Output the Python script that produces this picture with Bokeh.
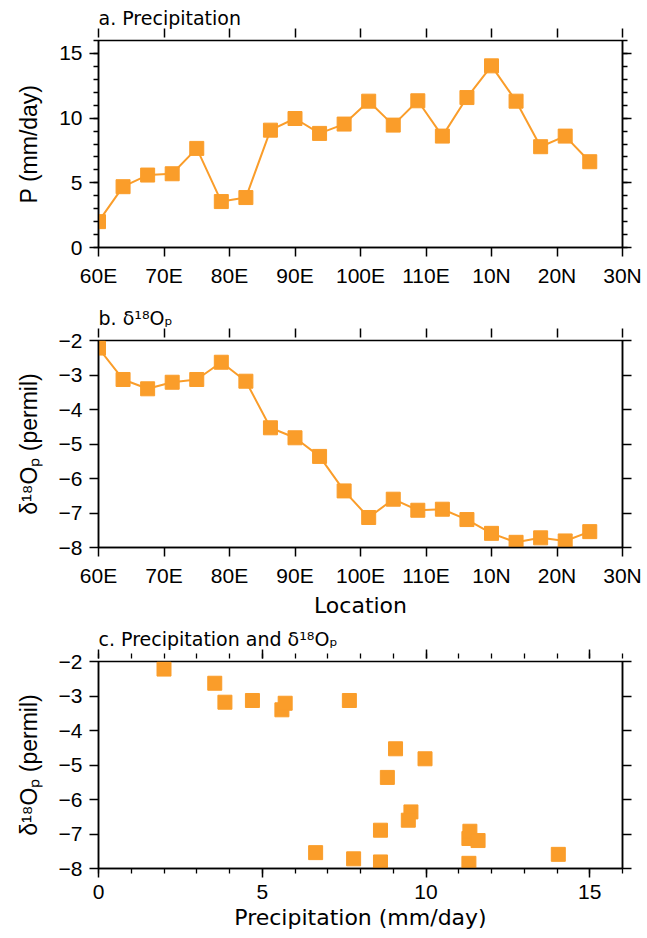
import numpy as np
from bokeh.plotting import figure
from bokeh.models import LinearAxis, FixedTicker, Range1d, Title, ColumnDataSource
from bokeh.layouts import column
from bokeh.embed import file_html
from bokeh.resources import INLINE

# ---------------- data ----------------
# sample positions along the transect (degrees from 60E; 60E->120E along the equator, then north)
transect_deg = [0, 3.75, 7.5, 11.25, 15, 18.75, 22.5, 26.25, 30, 33.75, 37.5,
                41.25, 45, 48.75, 52.5, 56.25, 60, 63.75, 67.5, 71.25, 75]
location_ticks = [0, 10, 20, 30, 40, 50, 60, 70, 80]
location_labels = ["60E", "70E", "80E", "90E", "100E", "110E", "10N", "20N", "30N"]

precip = [2.0, 4.7, 5.6, 5.7, 7.66, 3.55, 3.86, 9.07, 9.97, 8.82, 9.54,
          11.31, 9.46, 11.34, 8.61, 11.59, 14.04, 11.31, 7.79, 8.61, 6.63]
d18o = [-2.22, -3.13, -3.40, -3.21, -3.13, -2.63, -3.18, -4.53, -4.82, -5.36, -6.36,
        -7.13, -6.60, -6.92, -6.89, -7.19, -7.59, -7.85, -7.72, -7.81, -7.54]

p_ticks = [0, 5, 10, 15]
p_minor = list(range(0, 17))
d_ticks = [-8, -7, -6, -5, -4, -3, -2]

# ---------------- style ----------------
ORANGE = "#FA9D2A"
TICK_FONT = "Liberation Sans"
TITLE_FONT = "DejaVu Sans"
W = 647
LEFT, RIGHT = 98, 25

src = ColumnDataSource(dict(x=transect_deg, p=precip, d=d18o))


def style_axis(ax, labels=True, minor=False):
    ax.axis_line_width = 1.5
    ax.axis_line_color = "black"
    ax.major_tick_line_width = 1.5
    ax.major_tick_line_color = "black"
    ax.major_tick_in = 0
    ax.major_tick_out = 9
    ax.minor_tick_line_width = 1.3
    ax.minor_tick_line_color = "black"
    ax.minor_tick_in = 0
    ax.minor_tick_out = 5 if minor else 0
    if labels:
        ax.major_label_text_font = TICK_FONT
        ax.major_label_text_font_size = "21px"
        ax.major_label_text_color = "black"
        ax.major_label_standoff = 7
    else:
        ax.major_label_text_font_size = "1px"
        ax.major_label_standoff = 0
        ax.major_label_text_color = "white"
        ax.major_label_text_alpha = 0


def make_fig(height, top, bottom, xr, yr):
    p = figure(width=W, height=height, x_range=xr, y_range=yr,
               output_backend="svg", toolbar_location=None,
               min_border_left=LEFT, min_border_right=RIGHT,
               min_border_top=top, min_border_bottom=bottom,
               x_axis_location=None, y_axis_location=None)
    p.xgrid.visible = False
    p.ygrid.visible = False
    p.outline_line_color = "black"
    p.outline_line_width = 1.5
    p.background_fill_color = "white"
    p.border_fill_color = "white"
    return p


def add_axes(p, title, xticks, xminor, yticks, yminor, xlabels=None, xtitle=None, ytitle=None,
             top_minor=False, right_minor=False, x_minor_show=False, y_minor_show=False):
    # bottom
    xb = LinearAxis(ticker=FixedTicker(ticks=xticks, minor_ticks=xminor))
    style_axis(xb, labels=True, minor=x_minor_show)
    if xlabels is not None:
        xb.major_label_overrides = xlabels
    if xtitle:
        xb.axis_label = xtitle
        xb.axis_label_text_font = TITLE_FONT
        xb.axis_label_text_font_size = "22px"
        xb.axis_label_text_font_style = "normal"
        xb.axis_label_text_color = "black"
        xb.axis_label_standoff = 3
    p.add_layout(xb, "below")
    # top: tiny spacer, tick-only axis, then the panel title
    spacer = Title(text=" ", text_font_size="1px", standoff=0)
    p.add_layout(spacer, "above")
    xt = LinearAxis(ticker=FixedTicker(ticks=xticks, minor_ticks=xminor if top_minor else []))
    style_axis(xt, labels=False, minor=top_minor)
    xt.axis_line_color = None
    p.add_layout(xt, "above")
    t = Title(text=title, align="left", text_font=TITLE_FONT,
              text_font_size="19px", text_font_style="normal",
              text_color="black", standoff=0, offset=0)
    p.add_layout(t, "above")
    # left
    yl = LinearAxis(ticker=FixedTicker(ticks=yticks, minor_ticks=yminor))
    style_axis(yl, labels=True, minor=y_minor_show)
    if ytitle:
        yl.axis_label = ytitle
        yl.axis_label_text_font = TICK_FONT
        yl.axis_label_text_font_size = "23px"
        yl.axis_label_text_font_style = "normal"
        yl.axis_label_text_color = "black"
        yl.axis_label_standoff = 14
    p.add_layout(yl, "left")
    # right
    yr = LinearAxis(ticker=FixedTicker(ticks=yticks, minor_ticks=yminor if right_minor else []))
    style_axis(yr, labels=False, minor=right_minor)
    p.add_layout(yr, "right")


loc_overrides = {t: l for t, l in zip(location_ticks, location_labels)}

# ---------------- panel a ----------------
pa = make_fig(300, 40, 53, Range1d(0, 80), Range1d(0, 16))
add_axes(pa, "a. Precipitation", location_ticks, [], p_ticks, p_minor, xlabels=loc_overrides,
         ytitle="P (mm/day)", right_minor=True, y_minor_show=True)
pa.line("x", "p", source=src, line_color=ORANGE, line_width=2)
pa.scatter("x", "p", source=src, marker="square", size=14,
           fill_color=ORANGE, line_color=ORANGE)

# ---------------- panel b ----------------
pb = make_fig(320, 40, 73, Range1d(0, 80), Range1d(-8, -2))
add_axes(pb, "b. δ¹⁸Oₚ", location_ticks, [], d_ticks, [], xlabels=loc_overrides,
         xtitle="Location", ytitle="δ¹⁸Oₚ (permil)")
pb.line("x", "d", source=src, line_color=ORANGE, line_width=2)
pb.scatter("x", "d", source=src, marker="square", size=14,
           fill_color=ORANGE, line_color=ORANGE)

# ---------------- panel c ----------------
pc = make_fig(318, 41, 70, Range1d(0, 16), Range1d(-8, -2))
add_axes(pc, "c. Precipitation and δ¹⁸Oₚ", p_ticks, p_minor, d_ticks, [],
         xtitle="Precipitation (mm/day)", ytitle="δ¹⁸Oₚ (permil)",
         top_minor=True, x_minor_show=True)
pc.scatter("p", "d", source=src, marker="square", size=14,
           fill_color=ORANGE, line_color=ORANGE)

layout = column(pa, pb, pc, spacing=0)
open("out.html", "w").write(file_html(layout, INLINE))
